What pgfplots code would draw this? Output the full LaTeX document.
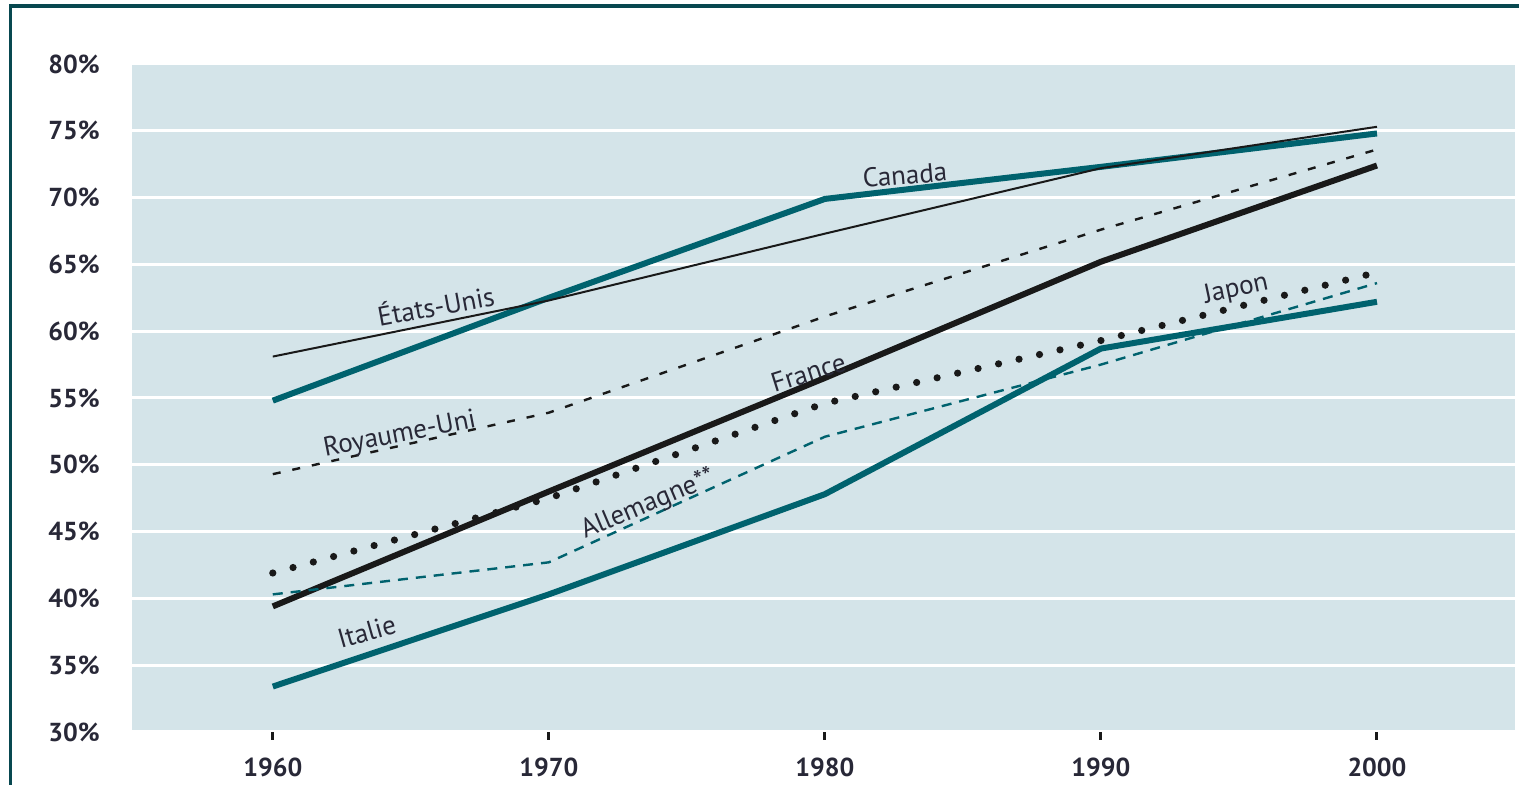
\documentclass[border=0pt]{standalone}
\usepackage{pgfplots}
\pgfplotsset{compat=1.18}
\usepackage{fontspec}
\setmainfont{PT Sans}

\definecolor{frame}{RGB}{8,72,80}
\definecolor{bgblue}{RGB}{212,228,233}
\definecolor{teal}{RGB}{0,98,110}
\definecolor{ink}{RGB}{25,25,25}
\definecolor{labink}{RGB}{40,40,55}

\begin{document}
\begin{tikzpicture}
\useasboundingbox (0,0) rectangle (759.5pt,392.5pt);
\draw[frame, line width=1.8pt] (5.25pt,-5pt) -- (5.25pt,389.5pt) -- (770pt,389.5pt);
\begin{axis}[
    at={(66pt,26.5pt)}, anchor=south west,
    scale only axis,
    width=691.5pt, height=334pt,
    xmin=1954.9, xmax=2005,
    ymin=30, ymax=80,
    xtick={1960,1970,...,2000},
    ytick={30,35,...,80},
    axis background/.style={fill=bgblue},
    axis line style={draw=none},
    ymajorgrids,
    grid style={white, line width=1.5pt},
    xtick pos=bottom, xtick align=outside,
    major tick length=4pt,
    xtick style={ink, line width=1.5pt},
    ytick style={draw=none},
    /pgf/number format/assume math mode=true,
    /pgf/number format/1000 sep={},
    ticklabel style={font=\bfseries\fontsize{13}{13}\selectfont, text=labink},
    yticklabel={\pgfmathprintnumber{\tick}\%},
    yticklabel style={inner sep=0pt, xshift=-16pt},
    xticklabel style={inner sep=0pt, yshift=-9pt},
]
% Canada
\addplot[teal, line width=3pt] coordinates {(1960,54.8) (1970,62.5) (1980,69.9) (1990,72.3) (2000,74.8)};
% Etats-Unis
\addplot[ink, line width=1pt] coordinates {(1960,58.1) (1970,62.3) (1980,67.3) (1990,72.2) (2000,75.3)};
% Royaume-Uni
\addplot[ink, line width=1.2pt, dash pattern=on 4pt off 6pt] coordinates {(1960,49.3) (1970,53.9) (1980,61.1) (1990,67.6) (2000,73.6)};
% France
\addplot[ink, line width=3pt] coordinates {(1960,39.4) (1970,48.0) (1980,56.5) (1990,65.2) (2000,72.4)};
% Japon
\addplot[ink, line width=3.6pt, line cap=round, dash pattern=on 0pt off 10.5pt] coordinates {(1960,41.9) (1970,47.5) (1980,54.6) (1990,59.3) (2000,64.4)};
% Allemagne
\addplot[teal, line width=1.2pt, dash pattern=on 5pt off 4pt] coordinates {(1960,40.3) (1970,42.7) (1980,52.1) (1990,57.5) (2000,63.6)};
% Italie
\addplot[teal, line width=3pt] coordinates {(1960,33.4) (1970,40.3) (1980,47.8) (1990,58.7) (2000,62.2)};

\begin{scope}[every node/.style={font=\fontsize{13.5}{13.5}\selectfont, text=labink}]
\node[rotate=5] at (axis cs:1982.9,71.7) {Canada};
\node[rotate=10.5] at (axis cs:1965.9,62.0) {États-Unis};
\node[rotate=11] at (axis cs:1964.6,52.2) {Royaume-Uni};
\node[rotate=17.5] at (axis cs:1979.4,56.9) {France};
\node[rotate=12] at (axis cs:1994.9,63.1) {Japon};
\node[rotate=23] at (axis cs:1973.6,47.0) {Allemagne**};
\node[rotate=16] at (axis cs:1963.4,37.5) {Italie};
\end{scope}
\end{axis}
\end{tikzpicture}
\end{document}
